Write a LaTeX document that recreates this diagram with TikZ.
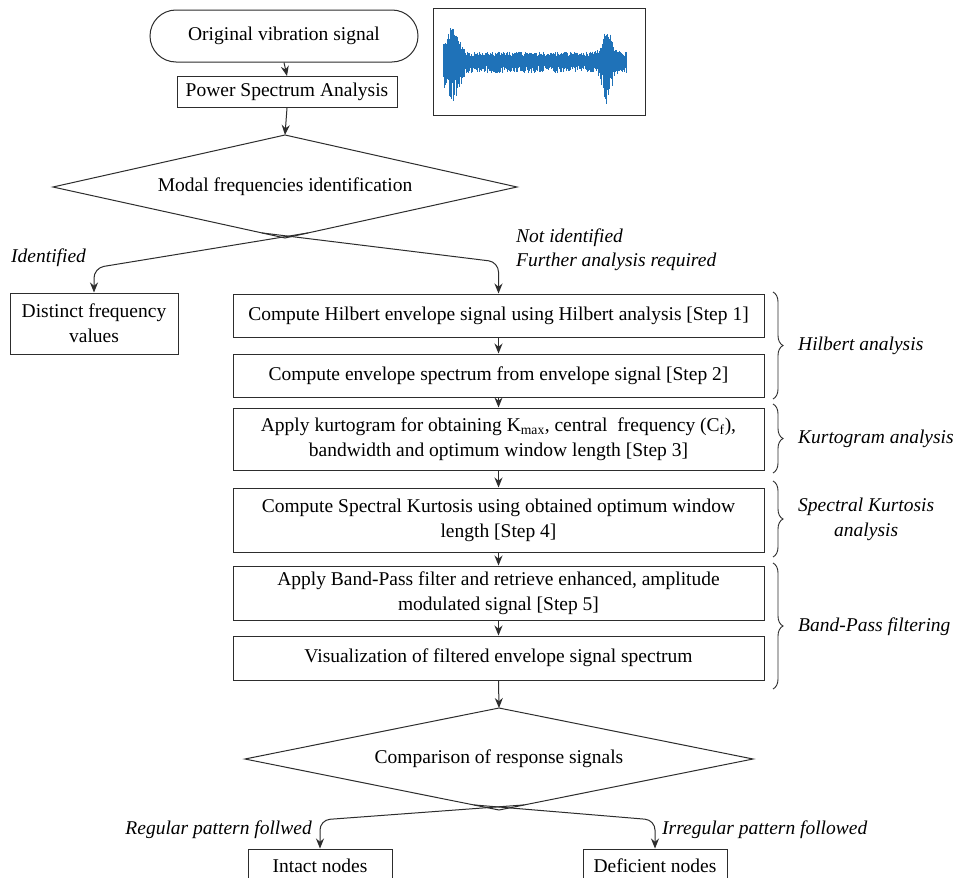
\documentclass[tikz,border=0pt]{standalone}
\usepackage{fontspec}
\setmainfont{Liberation Serif}
\usetikzlibrary{arrows.meta,decorations.pathreplacing,calc}
\definecolor{sigblue}{RGB}{31,114,184}
\definecolor{ln}{RGB}{45,45,45}
\newcommand{\fs}{\fontsize{19.5}{25}\selectfont}
\begin{document}
\begin{tikzpicture}[x=1pt,y=-1pt,
  every node/.style={font=\fs, text=black},
  stepbox/.style={draw=ln, line width=1pt, minimum width=531pt, minimum height=#1, align=center, inner sep=2pt},
  plainbox/.style={draw=ln, line width=1pt, align=center, inner sep=2pt},
  arr/.style={draw=ln, line width=1pt, -{Stealth[length=10pt,width=8pt]}},
  lbl/.style={font=\fs\itshape, inner sep=0pt},
  brc/.style={draw=ln, line width=0.9pt, decorate, decoration={brace, amplitude=10pt}},
  dia/.style={draw=ln, line width=1pt}]
\clip (0,0) rectangle (961,878);
\fill[white] (0,0) rectangle (961,878);

% top
\node[plainbox, minimum width=268pt, minimum height=52pt, rounded corners=26pt] (term) at (284,36) {Original vibration signal};
\node[plainbox, minimum width=220pt, minimum height=31pt] (psa) at (287,92) {Power Spectrum Analysis};
\node[draw=ln, line width=1pt, minimum width=212pt, minimum height=107pt, inner sep=0pt] (sigbox) at (539,61.5) {};
\pgfmathsetseed{7}
\foreach \i in {0,...,360}{
  \pgfmathsetmacro{\xx}{443+\i*0.51}
  \pgfmathsetmacro{\env}{8.5+22*exp(-min(((\xx-452)/9)^2,30))+22*exp(-min(((\xx-607)/6)^2,30))}
  \pgfmathsetmacro{\up}{\env*(0.5+0.6*rnd)}
  \pgfmathsetmacro{\dn}{\env*(0.5+0.9*rnd)}
  \draw[sigblue, line width=0.7pt] (\xx,61-\up) -- (\xx,61+\dn);
}

% diamond 1
\coordinate (d1t) at (285,135);
\coordinate (d1l) at (53,187);
\coordinate (d1r) at (517,187);
\coordinate (d1b) at (285,238);
\draw[dia] (d1t) -- (d1r) -- (d1b) -- (d1l) -- cycle;
\node (d1) at (285,187) {Modal frequencies identification};

\draw[arr] (term.south) -- (psa.north);
\draw[arr] (psa.south) -- (d1t);

% left branch
\node[plainbox, minimum width=168pt, minimum height=61pt] (dist) at (94,323.5) {Distinct frequency\\values};
\draw[arr, rounded corners=10pt] ($(d1b)!0.1!(d1r)$) -- (94,268) -- (dist.north);
\node[lbl, anchor=west] (lid) at (11,258) {Identified};

% steps
\node[stepbox=43pt] (s1) at (498.5,315.5) {Compute Hilbert envelope signal using Hilbert analysis [Step 1]};
\node[stepbox=43pt] (s2) at (498.5,375.5) {Compute envelope spectrum from envelope signal [Step 2]};
\node[stepbox=62pt] (s3) at (498.5,439) {Apply kurtogram for obtaining K\textsubscript{max}, central\ \ frequency (C\textsubscript{f}),\\bandwidth and optimum window length [Step 3]};
\node[stepbox=64pt] (s4) at (498.5,520) {Compute Spectral Kurtosis using obtained optimum window\\length [Step 4]};
\node[stepbox=54pt] (s5) at (498.5,593) {Apply Band-Pass filter and retrieve enhanced, amplitude\\modulated signal [Step 5]};
\node[stepbox=44pt] (s6) at (498.5,658) {Visualization of filtered envelope signal spectrum};

\draw[arr, rounded corners=10pt] ($(d1b)!0.1!(d1l)$) -- (498.5,262) -- (s1.north);
\node[lbl, anchor=west] (lni) at (516,238) {Not identified};
\node[lbl, anchor=west] (lfa) at (516,262) {Further analysis required};

\draw[arr] (s1.south) -- (s2.north);
\draw[arr] (s2.south) -- (s3.north);
\draw[arr] (s3.south) -- (s4.north);
\draw[arr] (s4.south) -- (s5.north);
\draw[arr] (s5.south) -- (s6.north);

% braces
\coordinate (b1a) at (773,292); \coordinate (b1b) at (773,399);
\coordinate (b2a) at (773,404); \coordinate (b2b) at (773,473);
\coordinate (b3a) at (773,481); \coordinate (b3b) at (773,557);
\coordinate (b4a) at (773,563); \coordinate (b4b) at (773,689);
\draw[brc] (b1a) -- (b1b);
\draw[brc] (b2a) -- (b2b);
\draw[brc] (b3a) -- (b3b);
\draw[brc] (b4a) -- (b4b);
\node[lbl, anchor=west] (bl1) at (798,346) {Hilbert analysis};
\node[lbl, anchor=west] (bl2) at (798,439) {Kurtogram analysis};
\node[lbl, align=center, anchor=west] (bl3) at (798,519) {Spectral Kurtosis\\analysis};
\node[lbl, anchor=west] (bl4) at (798,627) {Band-Pass filtering};

% diamond 2
\coordinate (d2t) at (499,708);
\coordinate (d2l) at (245,759);
\coordinate (d2r) at (753,759);
\coordinate (d2b) at (499,810);
\draw[dia] (d2t) -- (d2r) -- (d2b) -- (d2l) -- cycle;
\node (d2) at (499,759) {Comparison of response signals};
\draw[arr] (s6.south) -- (d2t);

\node[plainbox, minimum width=144pt, minimum height=34pt] (intact) at (320,866) {Intact nodes};
\node[plainbox, minimum width=144pt, minimum height=34pt] (defic) at (655,866) {Deficient nodes};
\draw[arr, rounded corners=10pt] ($(d2b)!0.1!(d2r)$) -- (320,820) -- (intact.north);
\draw[arr, rounded corners=10pt] ($(d2b)!0.1!(d2l)$) -- (655,820) -- (defic.north);
\node[lbl, anchor=east] (lreg) at (312,830) {Regular pattern follwed};
\node[lbl, anchor=west] (lirr) at (662,830) {Irregular pattern followed};
\end{tikzpicture}
\end{document}
